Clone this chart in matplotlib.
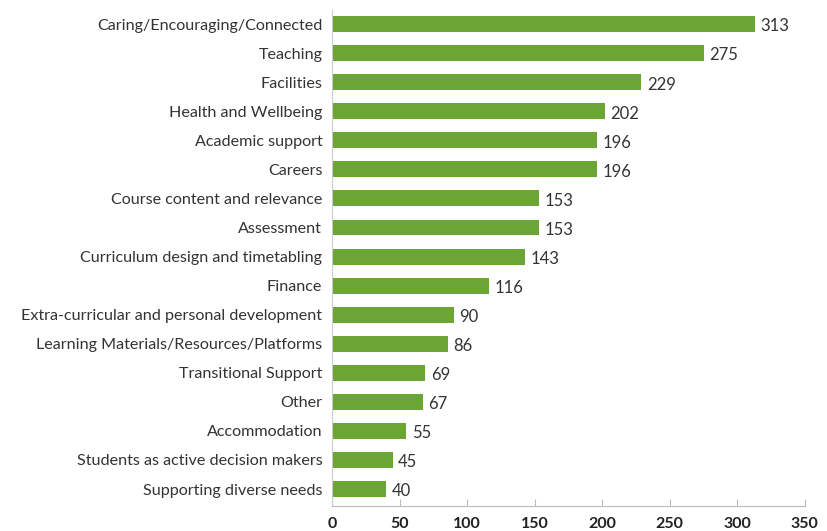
import matplotlib.pyplot as plt
import numpy as np

categories = ["Caring/Encouraging/Connected", "Teaching", "Facilities", "Health and Wellbeing",
              "Academic support", "Careers", "Course content and relevance", "Assessment",
              "Curriculum design and timetabling", "Finance",
              "Extra-curricular and personal development", "Learning Materials/Resources/Platforms",
              "Transitional Support", "Other", "Accommodation",
              "Students as active decision makers", "Supporting diverse needs"]
values = [313, 275, 229, 202, 196, 196, 153, 153, 143, 116, 90, 86, 69, 67, 55, 45, 40]
xticks = [0, 50, 100, 150, 200, 250, 300, 350]

plt.rcParams['font.family'] = ['Lato', 'DejaVu Sans']

fig = plt.figure(figsize=(8.28, 5.31), dpi=100)
ax = fig.add_axes([0.401, 0.047, 0.571, 0.935])

y = np.arange(len(categories))
ax.barh(y, values, height=0.55, color='#6aa536')
for yi, v in zip(y, values):
    ax.text(v + 4, yi + 0.08, str(v), va='center', ha='left', fontsize=12, color='#333333')

ax.set_ylim(16.585, -0.5)
ax.set_xlim(0, 350)
ax.set_yticks(y)
ax.set_yticklabels(categories, fontsize=11.6, color='#333333')
ax.set_xticks(xticks)
ax.set_xticklabels([str(t) for t in xticks], fontsize=11.5, fontweight='bold', color='#222222')

ax.tick_params(axis='y', length=0, pad=7)
ax.tick_params(axis='x', direction='in', length=5, color='#bbbbbb', pad=8)
for s in ['top', 'right']:
    ax.spines[s].set_visible(False)
ax.spines['left'].set_color('#cccccc')
ax.spines['bottom'].set_color('#bbbbbb')

fig.savefig('out.png', dpi=100)
